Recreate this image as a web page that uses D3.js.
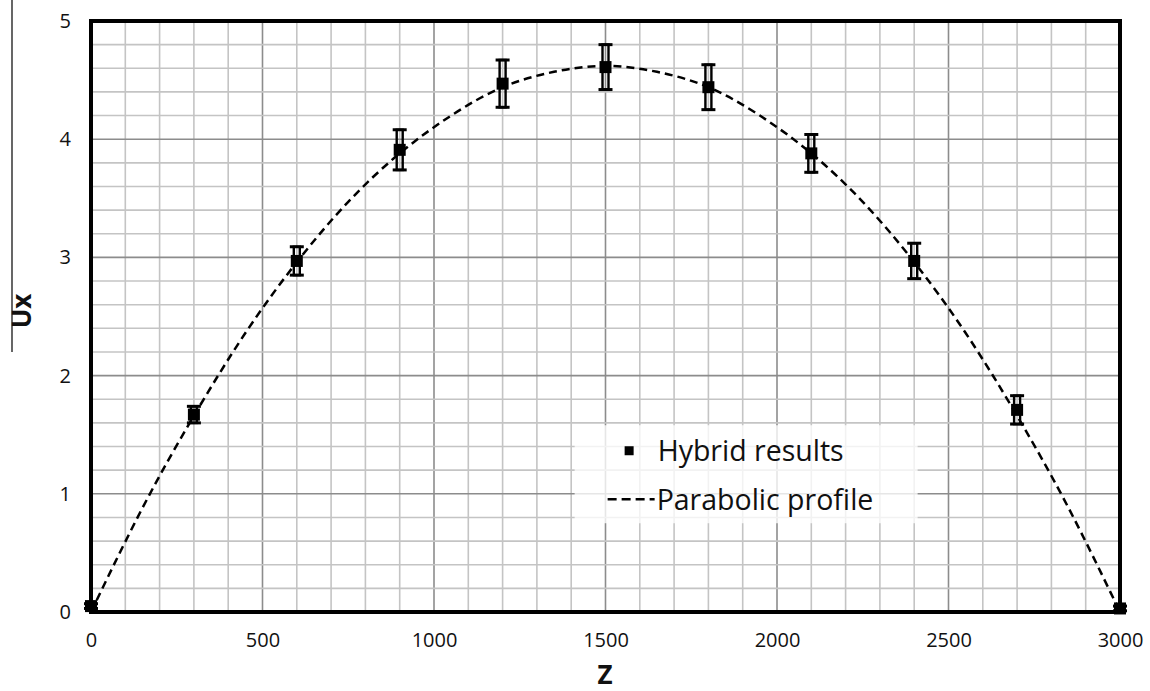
<!DOCTYPE html>
<html>
<head>
<meta charset="utf-8">
<script src="https://cdn.jsdelivr.net/npm/d3@7"></script>
<style>
  body { margin: 0; background: #fff; }
  text { font-family: "Open Sans", sans-serif; fill: #111; }
</style>
</head>
<body>
<div id="chart"></div>
<script>
// data
const zValues = [0, 300, 600, 900, 1200, 1500, 1800, 2100, 2400, 2700, 3000];
const uxValues = [0.05, 1.67, 2.97, 3.91, 4.47, 4.61, 4.44, 3.88, 2.97, 1.71, 0.03];
const uxErrors = [0.02, 0.07, 0.12, 0.17, 0.2, 0.19, 0.19, 0.16, 0.15, 0.12, 0.02];

// dashed parabolic profile
const profileZ = [0, 150, 300, 450, 600, 750, 900, 1050, 1200, 1350, 1500,
                  1650, 1800, 1950, 2100, 2250, 2400, 2550, 2700, 2850, 3000];
const profileUx = [0, 0.88, 1.66, 2.36, 2.96, 3.47, 3.88, 4.2, 4.44, 4.57, 4.62,
                   4.57, 4.44, 4.2, 3.88, 3.47, 2.96, 2.36, 1.66, 0.88, 0];

const xTicks = [0, 500, 1000, 1500, 2000, 2500, 3000];
const yTicks = [0, 1, 2, 3, 4, 5];

const margin = { top: 21, right: 30, bottom: 79, left: 91 },
    width = 1150 - margin.left - margin.right,
    height = 691 - margin.top - margin.bottom;

const svg = d3.select('#chart')
    .append('svg')
    .attr('width', 1150)
    .attr('height', 691);

const group = svg.append('g')
    .attr('transform', `translate(${margin.left},${margin.top})`);

const xScale = d3.scaleLinear().domain([0, 3000]).range([0, width]);
const yScale = d3.scaleLinear().domain([0, 5]).range([height, 0]);

// grid: minor lines every 100 / 0.2, major every 500 / 1
const xMinor = d3.range(0, 3001, 100);
const yMinor = d3.range(0, 26).map(i => i / 5);

group.selectAll('.gx')
    .data(xMinor)
    .enter().append('line')
    .attr('x1', d => xScale(d)).attr('x2', d => xScale(d))
    .attr('y1', 0).attr('y2', height)
    .attr('stroke', d => d % 500 === 0 ? '#8c8c8c' : '#c4c4c4')
    .attr('stroke-width', 1.6);

group.selectAll('.gy')
    .data(yMinor)
    .enter().append('line')
    .attr('y1', d => yScale(d)).attr('y2', d => yScale(d))
    .attr('x1', 0).attr('x2', width)
    .attr('stroke', d => Math.abs(d - Math.round(d)) < 1e-6 ? '#8c8c8c' : '#c4c4c4')
    .attr('stroke-width', 1.6);

// axes labels
const xAxis = d3.axisBottom(xScale).tickValues(xTicks).tickFormat(d3.format('d'))
    .tickSize(0).tickPadding(21);
const yAxis = d3.axisLeft(yScale).tickValues(yTicks).tickFormat(d3.format('d'))
    .tickSize(0).tickPadding(20);

group.append('g')
    .attr('transform', `translate(0,${height})`)
    .call(xAxis)
    .call(g => g.select('.domain').remove())
    .selectAll('text')
    .style('font-size', '20px')
    .style('font-family', '"Open Sans", sans-serif')
    .attr('fill', '#111');

group.append('g')
    .call(yAxis)
    .call(g => g.select('.domain').remove())
    .selectAll('text')
    .style('font-size', '20px')
    .style('font-family', '"Open Sans", sans-serif')
    .attr('fill', '#111');

// legend box (drawn under the marks)
const legend = group.append('g')
    .attr('transform', `translate(${xScale(1410)},${yScale(1.58)})`);

legend.append('rect')
    .attr('width', 343).attr('height', 98)
    .attr('fill', '#fff').attr('fill-opacity', 0.78);

// parabolic profile
const profile = profileZ.map((z, i) => ({ z, ux: profileUx[i] }));
const line = d3.line()
    .x(d => xScale(d.z))
    .y(d => yScale(d.ux))
    .curve(d3.curveNatural);

group.append('path')
    .datum(profile)
    .attr('d', line)
    .attr('fill', 'none')
    .attr('stroke', '#000')
    .attr('stroke-width', 2.5)
    .attr('stroke-dasharray', '8,5');

// plot frame
group.append('rect')
    .attr('width', width).attr('height', height)
    .attr('fill', 'none')
    .attr('stroke', '#000')
    .attr('stroke-width', 4);

// hybrid results with error bars
const points = zValues.map((z, i) => ({ z, ux: uxValues[i], err: uxErrors[i] }));

const pts = group.selectAll('.pt')
    .data(points)
    .enter().append('g')
    .attr('transform', d => `translate(${xScale(d.z)},0)`);

pts.append('rect')
    .attr('x', -3)
    .attr('y', d => yScale(d.ux + d.err))
    .attr('width', 6)
    .attr('height', d => yScale(d.ux - d.err) - yScale(d.ux + d.err))
    .attr('fill', 'none')
    .attr('stroke', '#000')
    .attr('stroke-width', 2.4);

pts.selectAll('.cap')
    .data(d => [d.ux + d.err, d.ux - d.err])
    .enter().append('line')
    .attr('x1', -7).attr('x2', 7)
    .attr('y1', d => yScale(d)).attr('y2', d => yScale(d))
    .attr('stroke', '#000')
    .attr('stroke-width', 3);

pts.append('rect')
    .attr('x', -6)
    .attr('y', d => yScale(d.ux) - 6)
    .attr('width', 12).attr('height', 12)
    .attr('fill', '#000');

// legend contents
legend.append('rect')
    .attr('x', 50).attr('y', 21)
    .attr('width', 9).attr('height', 9)
    .attr('fill', '#000');

legend.append('text')
    .attr('x', 83).attr('y', 36)
    .style('font-size', '28.5px')
    .text('Hybrid results');

legend.append('line')
    .attr('x1', 33).attr('x2', 80)
    .attr('y1', 74).attr('y2', 74)
    .attr('stroke', '#000')
    .attr('stroke-width', 2.5)
    .attr('stroke-dasharray', '9,5');

legend.append('text')
    .attr('x', 82).attr('y', 85)
    .style('font-size', '28.5px')
    .text('Parabolic profile');

// axis titles
svg.append('text')
    .attr('x', 605).attr('y', 684)
    .attr('text-anchor', 'middle')
    .style('font-size', '26px')
    .style('font-weight', 'bold')
    .text('Z');

svg.append('text')
    .attr('transform', 'translate(31,311) rotate(-90)')
    .attr('text-anchor', 'middle')
    .style('font-size', '26px')
    .style('font-weight', 'bold')
    .text('Ux');

// stray vertical rule at the far left of the figure
svg.append('line')
    .attr('x1', 12).attr('x2', 12)
    .attr('y1', 0).attr('y2', 352)
    .attr('stroke', '#000')
    .attr('stroke-width', 1.2);
</script>
</body>
</html>
